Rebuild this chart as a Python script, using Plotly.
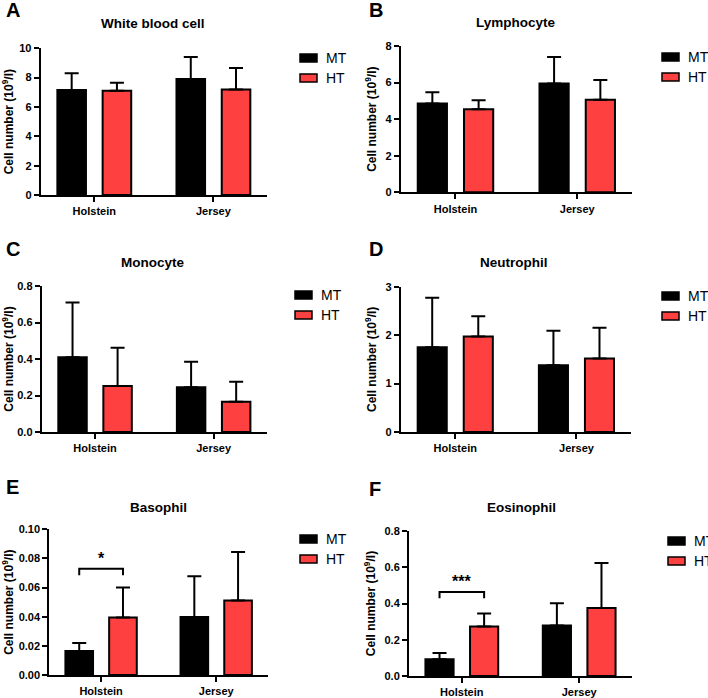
import plotly.graph_objects as go

categories = ["Holstein", "Jersey"]
series_names = ["MT", "HT"]
colors = {"MT": "#000000", "HT": "#FF4040"}

panel_letters = ["A", "B", "C", "D", "E", "F"]
panel_titles = ["White blood cell", "Lymphocyte", "Monocyte", "Neutrophil", "Basophil", "Eosinophil"]

wbc_mt = [7.15, 7.90]
wbc_mt_sd = [1.15, 1.50]
wbc_ht = [7.10, 7.20]
wbc_ht_sd = [0.55, 1.45]

lym_mt = [4.85, 5.95]
lym_mt_sd = [0.62, 1.45]
lym_ht = [4.54, 5.06]
lym_ht_sd = [0.49, 1.08]

mono_mt = [0.410, 0.245]
mono_mt_sd = [0.300, 0.140]
mono_ht = [0.252, 0.166]
mono_ht_sd = [0.210, 0.110]

neut_mt = [1.75, 1.38]
neut_mt_sd = [1.02, 0.71]
neut_ht = [1.97, 1.52]
neut_ht_sd = [0.42, 0.63]

baso_mt = [0.0164, 0.0398]
baso_mt_sd = [0.0056, 0.0279]
baso_ht = [0.0395, 0.0511]
baso_ht_sd = [0.0205, 0.0334]

eos_mt = [0.093, 0.278]
eos_mt_sd = [0.034, 0.124]
eos_ht = [0.273, 0.375]
eos_ht_sd = [0.072, 0.249]

y_max = [10, 8, 0.8, 3, 0.10, 0.8]
y_dtick = [2, 2, 0.2, 1, 0.02, 0.2]
y_format = ["d", "d", ".1f", "d", ".2f", ".1f"]

# significance (panel index, bracket level, label)
sig_panels = [4, 5]
sig_levels = [0.073, 0.464]
sig_drop = [0.0045, 0.035]
sig_labels = ["*", "***"]

data = [
    (wbc_mt, wbc_mt_sd, wbc_ht, wbc_ht_sd),
    (lym_mt, lym_mt_sd, lym_ht, lym_ht_sd),
    (mono_mt, mono_mt_sd, mono_ht, mono_ht_sd),
    (neut_mt, neut_mt_sd, neut_ht, neut_ht_sd),
    (baso_mt, baso_mt_sd, baso_ht, baso_ht_sd),
    (eos_mt, eos_mt_sd, eos_ht, eos_ht_sd),
]

W, H = 708, 698
# panel placement in pixels: (x_left, x_right, y_top, y_bottom)
boxes = [
    (40.7, 267, 48.3, 195),
    (400.7, 632, 46, 192.3),
    (41.7, 267, 286, 432),
    (400.7, 631, 286.7, 432),
    (49.3, 268, 529.3, 675),
    (409, 632, 531, 676),
]
title_pos = [(153, 23), (516, 22), (152, 262), (514, 262), (158, 507), (521, 507)]
letter_pos = [(13, 10), (376, 10), (13, 249), (376, 249), (12, 487), (375, 489)]
# legend: (box left, MT row center y, HT row center y)
legend_pos = [(300, 58, 78), (662, 57, 77), (295, 295, 315),
              (662, 296, 316), (300, 539, 559), (668, 541, 561)]
LEG_W, LEG_H = 17, 8

FONT = "Arial, Liberation Sans, sans-serif"
bar_width = 0.24
offsets = {"MT": -0.31, "HT": 0.07}

fig = go.Figure()
layout = dict(
    template="none",
    width=W, height=H, margin=dict(l=0, r=0, t=0, b=0, pad=0),
    plot_bgcolor="white", paper_bgcolor="white",
    barmode="group", showlegend=False,
    font=dict(family=FONT, color="black"),
)
annotations = []
shapes = []

for i in range(6):
    sfx = "" if i == 0 else str(i + 1)
    xa, ya = "x" + sfx, "y" + sfx
    mt, mt_sd, ht, ht_sd = data[i]
    for name, vals, sd in (("MT", mt, mt_sd), ("HT", ht, ht_sd)):
        fig.add_trace(go.Bar(
            x=categories, y=vals, name=name,
            xaxis=xa, yaxis=ya,
            width=bar_width, offset=offsets[name],
            marker=dict(color=colors[name], line=dict(color="black", width=2)),
            error_y=dict(type="data", symmetric=False, array=sd,
                         arrayminus=[0] * len(sd), color="black",
                         thickness=2, width=7),
        ))
    xl, xr, yt, yb = boxes[i]
    layout["xaxis" + sfx] = dict(
        domain=[xl / W, xr / W], anchor=ya, range=[-0.45, 1.45],
        showline=True, linecolor="black", linewidth=2,
        ticks="outside", ticklen=5, tickwidth=2, tickcolor="black",
        showgrid=False, zeroline=False, automargin=False,
        tickfont=dict(family=FONT, size=11, weight="bold", color="black"),
        fixedrange=True,
    )
    layout["yaxis" + sfx] = dict(
        domain=[1 - yb / H, 1 - yt / H], anchor=xa, range=[0, y_max[i]],
        dtick=y_dtick[i], tick0=0, tickformat=y_format[i],
        showline=True, linecolor="black", linewidth=2,
        ticks="outside", ticklen=5, tickwidth=2, tickcolor="black",
        showgrid=False, zeroline=False, automargin=False,
        tickfont=dict(family=FONT, size=11, weight="bold", color="black"),
        title=dict(text="Cell number (10<sup>9</sup>/l)", standoff=6,
                   font=dict(family=FONT, size=12, weight="bold", color="black")),
        fixedrange=True,
    )
    tx, ty = title_pos[i]
    annotations.append(dict(
        x=tx / W, y=1 - ty / H, xref="paper", yref="paper",
        text=panel_titles[i], showarrow=False, xanchor="center", yanchor="middle",
        font=dict(family=FONT, size=13.5, weight="bold", color="black"),
    ))
    lx, ly = letter_pos[i]
    annotations.append(dict(
        x=lx / W, y=1 - ly / H, xref="paper", yref="paper",
        text=panel_letters[i], showarrow=False, xanchor="center", yanchor="middle",
        font=dict(family=FONT, size=20, weight="bold", color="black"),
    ))
    # legend keys
    bx, my, hy = legend_pos[i]
    for name, cy in (("MT", my), ("HT", hy)):
        shapes.append(dict(
            type="rect", xref="paper", yref="paper",
            x0=bx / W, x1=(bx + LEG_W) / W,
            y0=1 - (cy + LEG_H / 2) / H, y1=1 - (cy - LEG_H / 2) / H,
            fillcolor=colors[name], line=dict(color="black", width=1.5),
        ))
        annotations.append(dict(
            x=(bx + LEG_W + 7) / W, y=1 - cy / H, xref="paper", yref="paper",
            text=name, showarrow=False, xanchor="left", yanchor="middle",
            font=dict(family=FONT, size=14, color="black"),
        ))

# significance brackets between MT and HT of Holstein
for k, p in enumerate(sig_panels):
    sfx = "" if p == 0 else str(p + 1)
    xa, ya = "x" + sfx, "y" + sfx
    x0 = offsets["MT"] + bar_width / 2
    x1 = offsets["HT"] + bar_width / 2
    lvl = sig_levels[k]
    drop = sig_drop[k]
    shapes.append(dict(
        type="path", xref=xa, yref=ya,
        path=f"M {x0},{lvl - drop} L {x0},{lvl} L {x1},{lvl} L {x1},{lvl - drop}",
        line=dict(color="black", width=2),
    ))
    annotations.append(dict(
        x=(x0 + x1) / 2, y=lvl, xref=xa, yref=ya, text=sig_labels[k],
        showarrow=False, xanchor="center", yanchor="bottom", yshift=0,
        font=dict(family=FONT, size=16, weight="bold", color="black"),
    ))

layout["annotations"] = annotations
layout["shapes"] = shapes
fig.update_layout(**layout)
fig.write_html(
    "out.html",
    config={"displayModeBar": False, "staticPlot": True},
    post_script="document.body.style.margin='0';document.body.style.overflow='hidden';",
)
